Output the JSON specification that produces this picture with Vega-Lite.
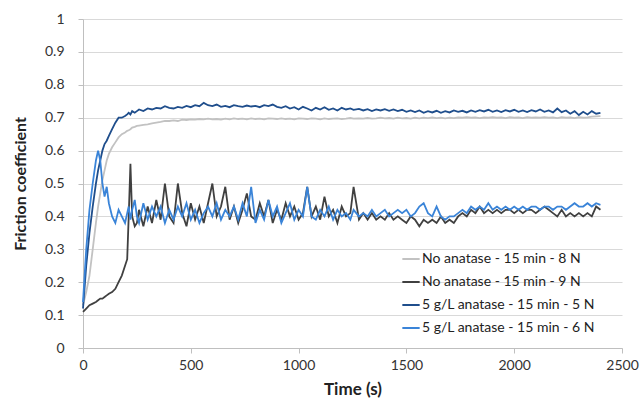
{
  "$schema": "https://vega.github.io/schema/vega-lite/v6.json",
  "autosize": {"type": "none"},
  "padding": {"left": 83, "top": 19, "right": 19, "bottom": 56},
  "width": 539,
  "height": 329,
  "background": "white",
  "config": {
    "font": "Lato",
    "view": {"stroke": null}
  },
  "data": {
    "values": [
      {"t":0,"a":0.13,"b":0.11,"c":0.12,"d":0.14},
      {"t":15,"a":0.17,"b":0.12,"c":0.25,"d":0.30},
      {"t":30,"a":0.22,"b":0.13,"c":0.35,"d":0.42},
      {"t":45,"a":0.30,"b":0.135,"c":0.43,"d":0.50},
      {"t":60,"a":0.38,"b":0.14,"c":0.50,"d":0.57},
      {"t":70,"a":0.43,"b":0.145,"c":0.54,"d":0.60},
      {"t":80,"a":0.47,"b":0.15,"c":0.57,"d":0.57},
      {"t":90,"a":0.51,"b":0.15,"c":0.60,"d":0.50},
      {"t":100,"a":0.54,"b":0.155,"c":0.62,"d":0.46},
      {"t":110,"a":0.57,"b":0.16,"c":0.63,"d":0.49},
      {"t":120,"a":0.59,"b":0.165,"c":0.645,"d":0.44},
      {"t":135,"a":0.61,"b":0.17,"c":0.665,"d":0.40},
      {"t":150,"a":0.625,"b":0.18,"c":0.685,"d":0.38},
      {"t":165,"a":0.64,"b":0.20,"c":0.70,"d":0.42},
      {"t":180,"a":0.65,"b":0.22,"c":0.70,"d":0.40},
      {"t":195,"a":0.655,"b":0.25,"c":0.705,"d":0.38},
      {"t":205,"a":0.66,"b":0.27,"c":0.71,"d":0.41},
      {"t":212,"a":0.662,"b":0.40,"c":0.715,"d":0.43},
      {"t":220,"a":0.665,"b":0.56,"c":0.71,"d":0.39},
      {"t":228,"a":0.67,"b":0.40,"c":0.72,"d":0.42},
      {"t":240,"a":0.672,"b":0.37,"c":0.715,"d":0.45},
      {"t":250,"a":0.675,"b":0.38,"c":0.72,"d":0.40},
      {"t":260,"a":0.676,"b":0.42,"c":0.725,"d":0.38},
      {"t":280,"a":0.678,"b":0.37,"c":0.720,"d":0.44},
      {"t":300,"a":0.680,"b":0.43,"c":0.728,"d":0.39},
      {"t":320,"a":0.683,"b":0.38,"c":0.725,"d":0.43},
      {"t":340,"a":0.685,"b":0.45,"c":0.730,"d":0.40},
      {"t":360,"a":0.687,"b":0.39,"c":0.728,"d":0.43},
      {"t":380,"a":0.690,"b":0.50,"c":0.735,"d":0.38},
      {"t":400,"a":0.690,"b":0.40,"c":0.730,"d":0.42},
      {"t":420,"a":0.692,"b":0.38,"c":0.728,"d":0.39},
      {"t":440,"a":0.690,"b":0.50,"c":0.733,"d":0.43},
      {"t":460,"a":0.694,"b":0.41,"c":0.730,"d":0.40},
      {"t":480,"a":0.693,"b":0.37,"c":0.736,"d":0.44},
      {"t":500,"a":0.695,"b":0.44,"c":0.732,"d":0.39},
      {"t":520,"a":0.694,"b":0.39,"c":0.738,"d":0.42},
      {"t":540,"a":0.696,"b":0.43,"c":0.735,"d":0.38},
      {"t":560,"a":0.695,"b":0.38,"c":0.745,"d":0.41},
      {"t":580,"a":0.697,"b":0.44,"c":0.738,"d":0.43},
      {"t":600,"a":0.695,"b":0.50,"c":0.735,"d":0.40},
      {"t":620,"a":0.696,"b":0.40,"c":0.740,"d":0.44},
      {"t":640,"a":0.694,"b":0.43,"c":0.733,"d":0.39},
      {"t":660,"a":0.697,"b":0.49,"c":0.736,"d":0.42},
      {"t":680,"a":0.695,"b":0.39,"c":0.732,"d":0.40},
      {"t":700,"a":0.698,"b":0.43,"c":0.738,"d":0.43},
      {"t":720,"a":0.696,"b":0.38,"c":0.735,"d":0.39},
      {"t":740,"a":0.697,"b":0.42,"c":0.733,"d":0.44},
      {"t":760,"a":0.695,"b":0.47,"c":0.737,"d":0.40},
      {"t":780,"a":0.698,"b":0.40,"c":0.734,"d":0.49},
      {"t":800,"a":0.696,"b":0.39,"c":0.736,"d":0.38},
      {"t":820,"a":0.697,"b":0.44,"c":0.732,"d":0.42},
      {"t":840,"a":0.695,"b":0.40,"c":0.738,"d":0.39},
      {"t":860,"a":0.698,"b":0.45,"c":0.735,"d":0.45},
      {"t":880,"a":0.697,"b":0.38,"c":0.740,"d":0.40},
      {"t":900,"a":0.696,"b":0.42,"c":0.733,"d":0.43},
      {"t":920,"a":0.698,"b":0.39,"c":0.730,"d":0.38},
      {"t":940,"a":0.696,"b":0.44,"c":0.735,"d":0.41},
      {"t":960,"a":0.697,"b":0.40,"c":0.728,"d":0.44},
      {"t":980,"a":0.695,"b":0.43,"c":0.732,"d":0.39},
      {"t":1000,"a":0.698,"b":0.39,"c":0.725,"d":0.42},
      {"t":1020,"a":0.697,"b":0.41,"c":0.733,"d":0.40},
      {"t":1040,"a":0.696,"b":0.49,"c":0.728,"d":0.49},
      {"t":1060,"a":0.698,"b":0.40,"c":0.722,"d":0.40},
      {"t":1080,"a":0.697,"b":0.43,"c":0.730,"d":0.39},
      {"t":1100,"a":0.695,"b":0.39,"c":0.725,"d":0.42},
      {"t":1120,"a":0.698,"b":0.46,"c":0.732,"d":0.40},
      {"t":1140,"a":0.696,"b":0.40,"c":0.724,"d":0.43},
      {"t":1160,"a":0.697,"b":0.42,"c":0.728,"d":0.39},
      {"t":1180,"a":0.698,"b":0.38,"c":0.722,"d":0.42},
      {"t":1200,"a":0.696,"b":0.43,"c":0.730,"d":0.40},
      {"t":1220,"a":0.697,"b":0.40,"c":0.725,"d":0.41},
      {"t":1240,"a":0.699,"b":0.41,"c":0.728,"d":0.39},
      {"t":1255,"a":0.697,"b":0.49,"c":0.724,"d":0.42},
      {"t":1280,"a":0.698,"b":0.39,"c":0.727,"d":0.40},
      {"t":1300,"a":0.697,"b":0.41,"c":0.722,"d":0.41},
      {"t":1320,"a":0.699,"b":0.39,"c":0.726,"d":0.40},
      {"t":1340,"a":0.697,"b":0.41,"c":0.720,"d":0.42},
      {"t":1360,"a":0.698,"b":0.39,"c":0.725,"d":0.40},
      {"t":1380,"a":0.700,"b":0.40,"c":0.722,"d":0.41},
      {"t":1400,"a":0.698,"b":0.39,"c":0.726,"d":0.42},
      {"t":1420,"a":0.699,"b":0.41,"c":0.721,"d":0.40},
      {"t":1440,"a":0.697,"b":0.39,"c":0.725,"d":0.41},
      {"t":1460,"a":0.700,"b":0.40,"c":0.720,"d":0.42},
      {"t":1480,"a":0.698,"b":0.39,"c":0.724,"d":0.41},
      {"t":1500,"a":0.699,"b":0.38,"c":0.718,"d":0.42},
      {"t":1520,"a":0.697,"b":0.40,"c":0.722,"d":0.40},
      {"t":1540,"a":0.700,"b":0.39,"c":0.717,"d":0.41},
      {"t":1560,"a":0.698,"b":0.37,"c":0.722,"d":0.43},
      {"t":1580,"a":0.700,"b":0.39,"c":0.715,"d":0.44},
      {"t":1600,"a":0.699,"b":0.38,"c":0.720,"d":0.41},
      {"t":1620,"a":0.701,"b":0.39,"c":0.716,"d":0.40},
      {"t":1640,"a":0.699,"b":0.38,"c":0.721,"d":0.43},
      {"t":1660,"a":0.700,"b":0.40,"c":0.715,"d":0.40},
      {"t":1680,"a":0.698,"b":0.38,"c":0.720,"d":0.39},
      {"t":1700,"a":0.700,"b":0.39,"c":0.716,"d":0.40},
      {"t":1720,"a":0.699,"b":0.38,"c":0.722,"d":0.40},
      {"t":1740,"a":0.701,"b":0.40,"c":0.718,"d":0.41},
      {"t":1760,"a":0.700,"b":0.41,"c":0.721,"d":0.42},
      {"t":1780,"a":0.702,"b":0.40,"c":0.716,"d":0.41},
      {"t":1800,"a":0.700,"b":0.42,"c":0.722,"d":0.43},
      {"t":1820,"a":0.701,"b":0.41,"c":0.718,"d":0.42},
      {"t":1840,"a":0.699,"b":0.43,"c":0.723,"d":0.43},
      {"t":1860,"a":0.701,"b":0.41,"c":0.719,"d":0.42},
      {"t":1880,"a":0.700,"b":0.42,"c":0.724,"d":0.44},
      {"t":1900,"a":0.702,"b":0.41,"c":0.718,"d":0.42},
      {"t":1920,"a":0.700,"b":0.42,"c":0.722,"d":0.43},
      {"t":1940,"a":0.701,"b":0.41,"c":0.717,"d":0.42},
      {"t":1960,"a":0.699,"b":0.42,"c":0.723,"d":0.43},
      {"t":1980,"a":0.702,"b":0.42,"c":0.719,"d":0.42},
      {"t":2000,"a":0.700,"b":0.41,"c":0.724,"d":0.43},
      {"t":2020,"a":0.701,"b":0.42,"c":0.718,"d":0.42},
      {"t":2040,"a":0.699,"b":0.41,"c":0.722,"d":0.43},
      {"t":2060,"a":0.702,"b":0.42,"c":0.717,"d":0.42},
      {"t":2080,"a":0.700,"b":0.42,"c":0.723,"d":0.43},
      {"t":2100,"a":0.701,"b":0.41,"c":0.719,"d":0.43},
      {"t":2120,"a":0.700,"b":0.42,"c":0.725,"d":0.42},
      {"t":2140,"a":0.702,"b":0.43,"c":0.718,"d":0.43},
      {"t":2160,"a":0.700,"b":0.42,"c":0.722,"d":0.43},
      {"t":2180,"a":0.701,"b":0.41,"c":0.716,"d":0.42},
      {"t":2200,"a":0.699,"b":0.40,"c":0.728,"d":0.43},
      {"t":2220,"a":0.702,"b":0.42,"c":0.717,"d":0.43},
      {"t":2240,"a":0.700,"b":0.40,"c":0.722,"d":0.42},
      {"t":2260,"a":0.701,"b":0.41,"c":0.712,"d":0.43},
      {"t":2280,"a":0.699,"b":0.40,"c":0.720,"d":0.44},
      {"t":2300,"a":0.702,"b":0.41,"c":0.708,"d":0.43},
      {"t":2320,"a":0.700,"b":0.40,"c":0.718,"d":0.43},
      {"t":2340,"a":0.701,"b":0.41,"c":0.710,"d":0.44},
      {"t":2360,"a":0.703,"b":0.40,"c":0.720,"d":0.43},
      {"t":2380,"a":0.704,"b":0.43,"c":0.712,"d":0.44},
      {"t":2400,"a":0.705,"b":0.42,"c":0.715,"d":0.435}
    ]
  },
  "transform": [
    {"fold": ["a", "b", "c", "d"], "as": ["series", "mu"]}
  ],
  "mark": {"type": "line", "strokeWidth": 1.8, "interpolate": "linear"},
  "encoding": {
    "x": {
      "field": "t", "type": "quantitative",
      "scale": {"domain": [0, 2500], "nice": false},
      "axis": {
        "title": "Time (s)", "values": [0, 500, 1000, 1500, 2000, 2500], "format": "d",
        "grid": false, "domainColor": "#BFBFBF", "tickColor": "#BFBFBF", "tickSize": 5,
        "labelFontSize": 14, "labelColor": "#333333", "labelPadding": 5, "labelFlush": false,
        "titleFontSize": 17, "titleFontWeight": "bold", "titleColor": "#222222", "titlePadding": 9
      }
    },
    "y": {
      "field": "mu", "type": "quantitative",
      "scale": {"domain": [0, 1], "nice": false},
      "axis": {
        "title": "Friction coefficient", "values": [0, 0.1, 0.2, 0.3, 0.4, 0.5, 0.6, 0.7, 0.8, 0.9, 1], "format": ".1~f",
        "gridColor": "#D9D9D9", "domainColor": "#BFBFBF", "tickColor": "#BFBFBF", "tickSize": 5,
        "labelFontSize": 14, "labelColor": "#333333", "labelPadding": 14,
        "titleFontSize": 16, "titleFontWeight": "bold", "titleColor": "#222222", "titlePadding": 16
      }
    },
    "color": {
      "field": "series", "type": "nominal",
      "scale": {"domain": ["a", "b", "c", "d"], "range": ["#C2C2C2", "#404040", "#1F4E8C", "#3A84D8"]},
      "legend": {
        "title": null, "orient": "none", "legendX": 318, "legendY": 230,
        "symbolType": "stroke", "symbolSize": 300, "symbolStrokeWidth": 2,
        "labelFontSize": 14, "labelColor": "#222222", "labelOffset": 1, "rowPadding": 6, "labelLimit": 0,
        "labelExpr": "datum.value == 'a' ? 'No anatase - 15 min - 8 N' : datum.value == 'b' ? 'No anatase - 15 min - 9 N' : datum.value == 'c' ? '5 g/L anatase - 15 min - 5 N' : '5 g/L anatase - 15 min - 6 N'"
      }
    }
  }
}
